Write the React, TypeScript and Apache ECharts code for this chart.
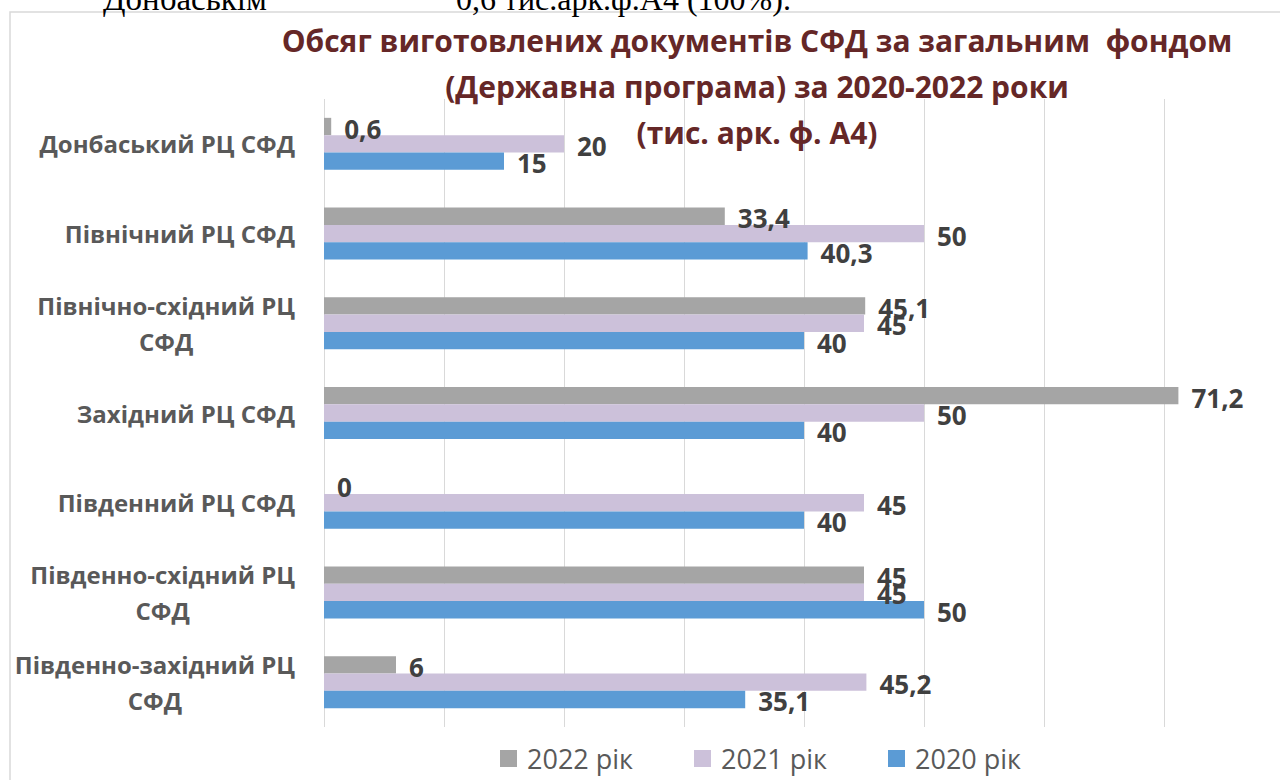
import React, { useEffect, useRef } from "react";
import * as echarts from "echarts";

const categories = [
  "Донбаський РЦ СФД",
  "Північний РЦ СФД",
  "Північно-східний РЦ\nСФД",
  "Західний РЦ СФД",
  "Південний РЦ СФД",
  "Південно-східний РЦ\nСФД",
  "Південно-західний РЦ\nСФД",
];
const seriesNames = ["2022 рік", "2021 рік", "2020 рік"];
const values2022 = [0.6, 33.4, 45.1, 71.2, 0, 45, 6];
const values2021 = [20, 50, 45, 50, 45, 45, 45.2];
const values2020 = [15, 40.3, 40, 40, 40, 50, 35.1];
const seriesColors = ["#A5A5A5", "#CCC1DA", "#5B9BD5"];
const titleText =
  "Обсяг виготовлених документів СФД за загальним  фондом\n(Державна програма) за 2020-2022 роки\n(тис. арк. ф. А4)";
const topLineLeft = "Донбаськім";
const topLineRight = "0,6 тис.арк.ф.А4 (100%).";

export default function App() {
  const ref = useRef<HTMLDivElement>(null);
  useEffect(() => {
    if (!ref.current) return;
    const chart = echarts.init(ref.current, null, { renderer: "svg" });
    const allValues = [values2022, values2021, values2020];
    const fmt = (p: any) => String(p.value).replace(".", ",");
    chart.setOption({
      animation: false,
      backgroundColor: "#ffffff",
      title: {
        text: titleText,
        left: 757,
        top: 17,
        padding: 0,
        textAlign: "center",
        textStyle: {
          fontFamily: "Open Sans",
          fontWeight: "bold",
          fontSize: 30,
          lineHeight: 46,
          color: "#652727",
        },
      },
      legend: seriesNames.map((n, i) => ({
        data: [n],
        left: [500, 694, 888][i],
        top: 745,
        itemWidth: 17,
        itemHeight: 17,
        icon: "rect",
        padding: 0,
        textStyle: {
          fontFamily: "Open Sans",
          fontSize: 27,
          color: "#595959",
          padding: [0, 0, 0, 5],
        },
      })),
      grid: {
        left: 324,
        top: 99,
        right: -4,
        bottom: 53,
        containLabel: false,
        outerBoundsMode: "none",
      },
      xAxis: {
        type: "value",
        min: 0,
        max: 80,
        interval: 10,
        axisLabel: { show: false },
        axisLine: { show: false },
        axisTick: { show: false },
        splitLine: { lineStyle: { color: "#D9D9D9", width: 1 } },
      },
      yAxis: {
        type: "category",
        inverse: true,
        data: categories,
        axisLine: { show: false },
        axisTick: { show: false },
        axisLabel: {
          margin: 29,
          align: "right",
          fontFamily: "Open Sans",
          fontWeight: "bold",
          fontSize: 24,
          color: "#595959",
          formatter: (v: string) =>
            v
              .split("\n")
              .map((l) => `{c|${l}}`)
              .join("\n"),
          rich: {
            c: {
              align: "center",
              fontFamily: "Open Sans",
              fontWeight: "bold",
              fontSize: 24,
              lineHeight: 36,
              color: "#595959",
            },
          },
        },
      },
      series: seriesNames.map((n, i) => ({
        name: n,
        type: "bar",
        data: allValues[i],
        barGap: "0%",
        barCategoryGap: "42%",
        itemStyle: { color: seriesColors[i] },
        label: {
          show: true,
          position: "right",
          distance: 13,
          offset: [0, 2],
          formatter: fmt,
          fontFamily: "Open Sans",
          fontWeight: "bold",
          fontSize: 26,
          color: "#404040",
        },
      })),
      graphic: [
        {
          type: "rect",
          shape: { x: 10, y: 12, width: 1300, height: 800 },
          style: { fill: "none", stroke: "#D9D9D9", lineWidth: 1.5 },
          silent: true,
        },
        {
          type: "text",
          x: 103,
          y: -1,
          style: {
            text: topLineLeft,
            fontFamily: "Liberation Serif",
            fontSize: 33,
            fill: "#000000",
            textVerticalAlign: "middle",
          },
        },
        {
          type: "text",
          x: 456,
          y: -1,
          style: {
            text: topLineRight,
            fontFamily: "Liberation Serif",
            fontSize: 32,
            fill: "#000000",
            textVerticalAlign: "middle",
          },
        },
      ],
    });
    return () => chart.dispose();
  }, []);
  return (
    <div
      ref={ref}
      style={{ position: "absolute", left: 0, top: 0, width: 1280, height: 780 }}
    />
  );
}
